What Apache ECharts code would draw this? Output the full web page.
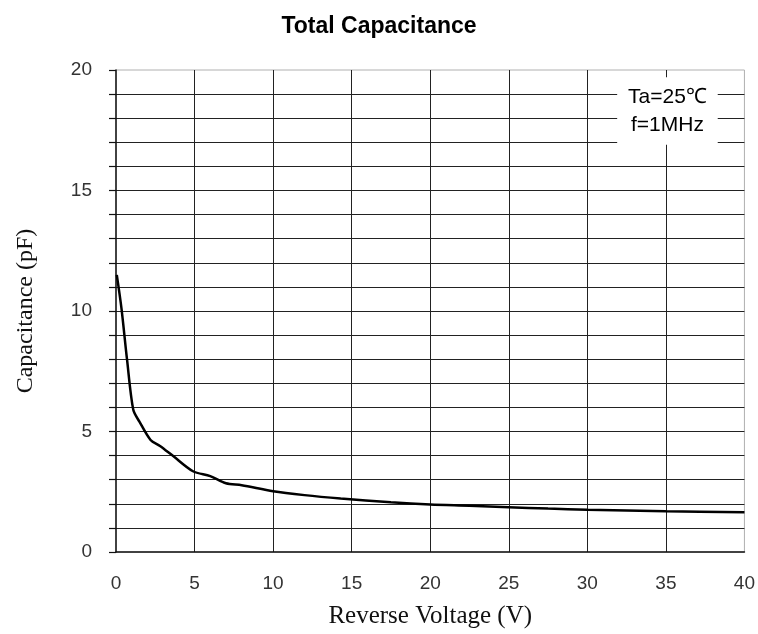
<!DOCTYPE html>
<html>
<head>
<meta charset="utf-8">
<script src="https://cdn.jsdelivr.net/npm/echarts@6/dist/echarts.min.js"></script>
<style>
html,body{margin:0;padding:0;background:#fff;}
#main{width:758px;height:634px;}
</style>
</head>
<body>
<div id="main"></div>
<script>
const chartTitle = 'Total Capacitance';
const xAxisName = 'Reverse Voltage (V)';
const yAxisName = 'Capacitance (pF)';
const annotationText = 'Ta=25\u2103\nf=1MHz';
const voltage = [0.05, 0.35, 0.7, 1.1, 1.5, 2.2, 2.8, 3.6, 4.9, 6, 7, 8, 10, 12, 14.3, 17.5, 20, 22.5, 25, 27.5, 30, 35, 40];
const capacitance = [11.5, 10.1, 8.0, 5.9, 5.4, 4.65, 4.4, 4.0, 3.35, 3.15, 2.85, 2.77, 2.52, 2.36, 2.22, 2.06, 1.97, 1.92, 1.86, 1.80, 1.75, 1.69, 1.65];
const annotationBox = [[31.9, 19.7], [38.3, 16.9]];

const chart = echarts.init(document.getElementById('main'));
chart.setOption({
  backgroundColor: '#fff',
  animation: false,
  title: {
    text: chartTitle, left: 'center', top: 10,
    textStyle: {fontFamily: 'Liberation Sans', fontWeight: 'bold', fontSize: 23, color: '#000'}
  },
  grid: {left: 116, right: 11, top: 70, bottom: 82, show: true, borderColor: '#b0b0b0', borderWidth: 1},
  xAxis: {
    type: 'value', min: 0, max: 40, interval: 5,
    name: xAxisName, nameLocation: 'middle', nameGap: 52,
    nameTextStyle: {fontFamily: 'Liberation Serif', fontSize: 25, color: '#111'},
    axisLine: {show: true, lineStyle: {color: '#111', width: 1.5}},
    axisTick: {show: false},
    axisLabel: {margin: 22, fontFamily: 'Liberation Sans', fontSize: 19, color: '#333'},
    splitLine: {show: true, showMinLine: false, showMaxLine: false, lineStyle: {color: '#222', width: 1}}
  },
  yAxis: {
    type: 'value', min: 0, max: 20, interval: 1,
    name: yAxisName, nameLocation: 'middle', nameGap: 78,
    nameTextStyle: {fontFamily: 'Liberation Serif', fontSize: 24, color: '#111'},
    axisLine: {show: true, lineStyle: {color: '#111', width: 1.5}},
    axisTick: {show: true, length: 7, lineStyle: {color: '#111', width: 1.2}},
    axisLabel: {margin: 24, fontFamily: 'Liberation Sans', fontSize: 19, color: '#333',
      formatter: v => (v % 5 === 0 ? String(v) : '')},
    splitLine: {show: true, showMinLine: false, showMaxLine: false, lineStyle: {color: '#222', width: 1}}
  },
  series: [{
    type: 'line',
    data: voltage.map((v, i) => [v, capacitance[i]]),
    showSymbol: false,
    smooth: 0.3,
    lineStyle: {color: '#000', width: 2.5},
    markArea: {
      silent: true,
      itemStyle: {color: '#fff', opacity: 1},
      label: {
        show: true, position: 'inside', formatter: annotationText,
        fontFamily: 'Liberation Sans', fontSize: 21, color: '#000', lineHeight: 28
      },
      data: [[{coord: annotationBox[0]}, {coord: annotationBox[1]}]]
    }
  }]
});
</script>
</body>
</html>
